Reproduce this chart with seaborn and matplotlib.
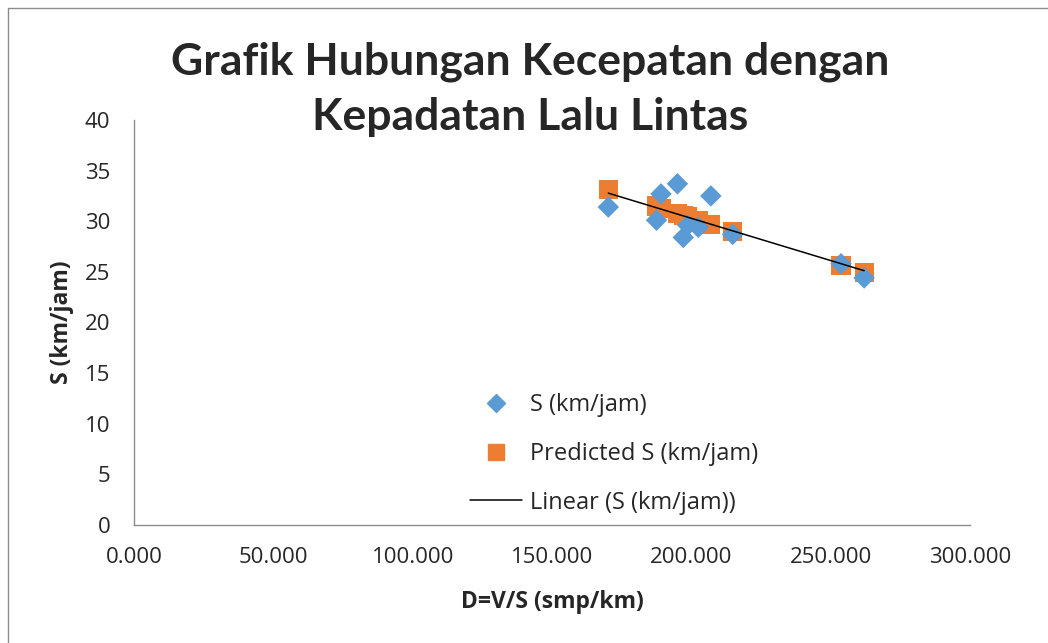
import numpy as np
import pandas as pd
import matplotlib
matplotlib.use('Agg')
import matplotlib.pyplot as plt
import seaborn as sns
from matplotlib.lines import Line2D
from matplotlib.patches import Rectangle

# data
kepadatan = [170.2, 187.5, 189.1, 195.0, 197.1, 198.7, 202.5, 207.0, 214.8, 253.7, 262.0]
kecepatan = [31.4, 30.1, 32.7, 33.7, 28.4, 29.6, 29.4, 32.5, 28.7, 25.8, 24.4]
prediksi = [33.1, 31.5, 31.3, 30.8, 30.6, 30.5, 30.1, 29.7, 29.0, 25.6, 24.9]

df = pd.DataFrame({'D': kepadatan, 'S': kecepatan, 'Pred': prediksi})

sns.set_style('white')
plt.rcParams['font.family'] = ['Open Sans', 'DejaVu Sans']

biru = '#5B9BD5'
oranye = '#ED7D31'
teks = '#262626'

fig = plt.figure(figsize=(10.48, 6.43), dpi=100)
ax = fig.add_axes([0.1279, 0.1835, 0.7977, 0.6299])

sns.scatterplot(data=df, x='D', y='Pred', marker='s', s=190, color=oranye,
                edgecolor='none', ax=ax, zorder=2)
sns.scatterplot(data=df, x='D', y='S', marker='D', s=120, color=biru,
                edgecolor='none', ax=ax, zorder=3)
sns.regplot(data=df, x='D', y='S', scatter=False, ci=None, ax=ax,
            line_kws={'color': 'black', 'lw': 1.1, 'zorder': 4})

ax.set_xlim(0, 300)
ax.set_ylim(0, 40)
ax.set_xticks(np.arange(0, 301, 50))
ax.set_xticklabels(['{:.3f}'.format(v) for v in np.arange(0, 301, 50)])
ax.set_yticks(np.arange(0, 41, 5))

for s in ['top', 'right']:
    ax.spines[s].set_visible(False)
for s in ['left', 'bottom']:
    ax.spines[s].set_color('#8c8c8c')
    ax.spines[s].set_linewidth(1)
ax.tick_params(axis='both', direction='out', length=6, width=1, color='#8c8c8c',
               labelsize=16, labelcolor=teks)
ax.tick_params(axis='y', pad=11)
ax.tick_params(axis='x', pad=10)

ax.set_xlabel('D=V/S (smp/km)', fontsize=16.5, fontweight='bold', labelpad=16,
              color=teks)
ax.set_ylabel('S (km/jam)', fontsize=16.5, fontweight='bold', labelpad=8,
              color=teks)

fig.text(0.506, 1 - 62 / 643, 'Grafik Hubungan Kecepatan dengan',
         ha='center', va='center', fontsize=32, fontweight='bold',
         family=['Lato', 'DejaVu Sans'])
fig.text(0.506, 1 - 117 / 643, 'Kepadatan Lalu Lintas',
         ha='center', va='center', fontsize=32, fontweight='bold',
         family=['Lato', 'DejaVu Sans'])

handles = [
    Line2D([], [], marker='D', color=biru, linestyle='none', markersize=9),
    Line2D([], [], marker='s', color=oranye, linestyle='none', markersize=12),
    Line2D([], [], color='black', lw=1.1),
]
labels = ['S (km/jam)', 'Predicted S (km/jam)', 'Linear (S (km/jam))']
fig.legend(handles, labels, loc='upper left',
           bbox_to_anchor=(470 / 1048, 1 - 393 / 643),
           borderaxespad=0, borderpad=0,
           frameon=False, fontsize=17, labelspacing=1.05, handlelength=2.2,
           handletextpad=0.35, labelcolor=teks)

fig.add_artist(Rectangle((8 / 1048, -0.05), 1.2, 1.05 - 8 / 643,
                         transform=fig.transFigure, fill=False,
                         edgecolor='#8c8c8c', lw=1))

fig.savefig('out.png', dpi=100)
